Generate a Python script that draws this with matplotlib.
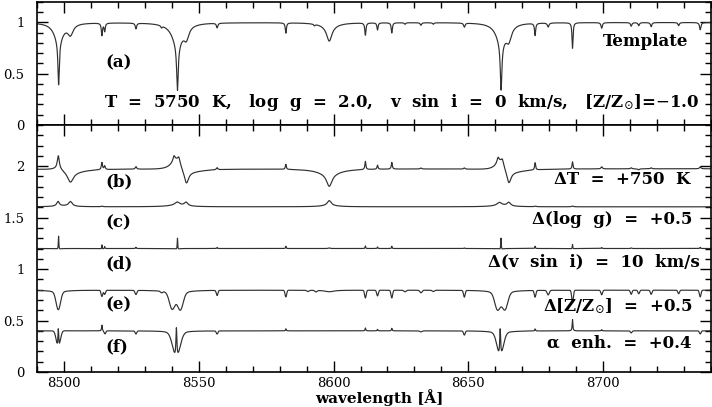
import numpy as np
import matplotlib
matplotlib.use('Agg')
import matplotlib.pyplot as plt
from matplotlib.ticker import MultipleLocator, FixedLocator, FixedFormatter

plt.rcParams['font.family'] = ['DejaVu Serif']
plt.rcParams['mathtext.fontset'] = 'dejavuserif'

# ---------------- data ----------------
WAVE_RANGE = (8490.0, 8740.0)
X_TICKS = [8500, 8550, 8600, 8650, 8700]
X_TICK_LABELS = ['8500', '8550', '8600', '8650', '8700']
TOP_Y_TICKS = [0, 0.5, 1]
TOP_Y_LABELS = ['0', '0.5', '1']
BOT_Y_TICKS = [0, 0.5, 1, 1.5, 2]
BOT_Y_LABELS = ['0', '0.5', '1', '1.5', '2']

# line lists: (centre [A], amplitude, width [A], profile L=Lorentz, G=Gauss)
TEMPLATE_LEVEL = 1.0
TEMPLATE_LINES = [
    (8498.02, -0.42, 0.30, 'L'), (8498.02, -0.18, 2.0, 'L'),
    (8502.4, -0.10, 1.2, 'L'),
    (8514.07, -0.12, 0.25, 'L'), (8515.1, -0.08, 0.25, 'L'),
    (8526.7, -0.055, 0.3, 'L'), (8536.2, -0.02, 0.3, 'L'),
    (8542.09, -0.44, 0.35, 'L'), (8542.09, -0.21, 2.4, 'L'),
    (8545.4, -0.11, 1.1, 'L'),
    (8556.8, -0.045, 0.3, 'L'),
    (8582.3, -0.10, 0.25, 'L'), (8592.9, -0.015, 0.3, 'L'),
    (8598.4, -0.15, 1.2, 'L'), (8598.4, -0.03, 4.0, 'L'),
    (8611.8, -0.12, 0.25, 'L'), (8616.3, -0.07, 0.25, 'L'),
    (8621.6, -0.10, 0.25, 'L'), (8626.5, -0.015, 0.3, 'L'),
    (8632.4, -0.025, 0.3, 'L'), (8637.0, -0.015, 0.3, 'L'),
    (8648.5, -0.04, 0.3, 'L'),
    (8662.14, -0.45, 0.35, 'L'), (8662.14, -0.19, 2.2, 'L'),
    (8665.0, -0.13, 1.2, 'L'),
    (8674.75, -0.12, 0.25, 'L'), (8679.6, -0.04, 0.35, 'L'),
    (8688.63, -0.25, 0.22, 'L'),
    (8699.45, -0.055, 0.3, 'L'), (8710.4, -0.035, 0.3, 'L'),
    (8713.2, -0.03, 0.3, 'L'), (8717.8, -0.04, 0.3, 'L'),
    (8728.0, -0.03, 0.3, 'L'), (8736.0, -0.07, 0.3, 'L'),
]

DT_LEVEL = 1.975
DT_LINES = [
    (8497.9, 0.13, 0.45, 'L'), (8498.0, 0.03, 3.0, 'L'),
    (8502.4, -0.10, 1.3, 'L'), (8502.4, -0.04, 6.0, 'L'),
    (8514.07, 0.07, 0.25, 'L'), (8515.1, 0.035, 0.25, 'L'),
    (8526.7, 0.025, 0.3, 'L'),
    (8540.8, 0.05, 0.45, 'L'), (8542.6, 0.05, 0.45, 'L'), (8541.8, 0.13, 2.5, 'L'),
    (8545.4, -0.13, 1.0, 'L'), (8545.4, -0.05, 6.0, 'L'),
    (8556.8, 0.02, 0.3, 'L'), (8582.3, 0.05, 0.22, 'L'),
    (8598.4, -0.12, 1.2, 'L'), (8598.4, -0.05, 5.0, 'L'),
    (8611.8, 0.08, 0.22, 'L'), (8616.3, 0.04, 0.22, 'L'), (8621.6, 0.065, 0.22, 'L'),
    (8632.4, 0.01, 0.3, 'L'), (8648.5, 0.012, 0.3, 'L'),
    (8661.0, 0.05, 0.45, 'L'), (8662.6, 0.04, 0.45, 'L'), (8662.0, 0.12, 2.3, 'L'),
    (8665.0, -0.13, 1.0, 'L'), (8665.0, -0.05, 6.0, 'L'),
    (8674.75, 0.07, 0.22, 'L'), (8688.63, 0.07, 0.2, 'L'),
    (8699.45, 0.02, 0.3, 'L'), (8710.4, 0.01, 0.3, 'L'), (8713.2, -0.01, 0.3, 'L'),
    (8717.8, 0.01, 0.3, 'L'), (8736.0, 0.02, 0.3, 'L'),
]

DLOGG_LEVEL = 1.605
DLOGG_LINES = [
    (8497.8, 0.045, 0.6, 'L'), (8502.4, 0.045, 0.8, 'L'), (8500.0, 0.008, 4.0, 'L'),
    (8514.07, 0.006, 0.3, 'L'),
    (8542.0, 0.03, 1.0, 'L'), (8542.0, 0.015, 4.0, 'L'), (8545.3, 0.035, 0.8, 'L'),
    (8598.4, 0.05, 0.9, 'L'), (8598.4, 0.01, 4.0, 'L'),
    (8661.5, 0.03, 1.0, 'L'), (8662.0, 0.012, 4.0, 'L'), (8665.0, 0.035, 0.8, 'L'),
    (8674.75, 0.005, 0.3, 'L'), (8688.6, 0.008, 0.3, 'L'),
]

DVSINI_LEVEL = 1.2
DVSINI_LINES = [
    (8498.0, 0.14, 0.12, 'L'), (8498.0, -0.02, 0.5, 'L'),
    (8514.07, 0.045, 0.12, 'L'), (8514.07, -0.01, 0.5, 'L'), (8515.1, 0.02, 0.12, 'L'),
    (8526.7, 0.012, 0.15, 'L'),
    (8542.1, 0.12, 0.12, 'L'), (8542.1, -0.02, 0.5, 'L'),
    (8556.8, 0.01, 0.15, 'L'), (8582.3, 0.022, 0.12, 'L'), (8598.4, 0.006, 0.3, 'L'),
    (8611.8, 0.025, 0.12, 'L'), (8616.3, 0.015, 0.12, 'L'), (8621.6, 0.022, 0.12, 'L'),
    (8648.5, 0.006, 0.15, 'L'),
    (8662.1, 0.12, 0.12, 'L'), (8662.1, -0.02, 0.5, 'L'),
    (8674.75, 0.022, 0.12, 'L'), (8688.63, 0.05, 0.12, 'L'), (8688.63, -0.01, 0.4, 'L'),
    (8699.45, 0.01, 0.15, 'L'), (8710.4, 0.006, 0.15, 'L'), (8736.0, 0.012, 0.15, 'L'),
]

DZ_LEVEL = 0.795
DZ_LINES = [
    (8497.9, -0.17, 0.8, 'G'), (8497.9, -0.02, 3.0, 'L'),
    (8514.07, -0.06, 0.3, 'G'), (8515.1, -0.04, 0.3, 'G'),
    (8526.7, -0.04, 0.35, 'G'), (8536.2, -0.015, 0.4, 'G'),
    (8540.1, -0.15, 1.0, 'G'), (8543.2, -0.15, 1.0, 'G'), (8542.0, -0.05, 3.0, 'L'),
    (8556.8, -0.05, 0.3, 'G'), (8582.3, -0.065, 0.3, 'G'),
    (8590.5, -0.012, 0.4, 'G'), (8593.5, -0.015, 0.4, 'G'), (8598.4, -0.015, 2.0, 'L'),
    (8611.8, -0.075, 0.3, 'G'), (8616.3, -0.055, 0.3, 'G'), (8621.6, -0.075, 0.3, 'G'),
    (8626.5, -0.015, 0.4, 'G'), (8632.4, -0.025, 0.4, 'G'), (8637.0, -0.012, 0.4, 'G'),
    (8648.5, -0.065, 0.3, 'G'),
    (8660.8, -0.15, 1.0, 'G'), (8663.6, -0.15, 1.0, 'G'), (8662.1, -0.05, 3.0, 'L'),
    (8674.75, -0.065, 0.3, 'G'), (8679.6, -0.045, 0.4, 'G'), (8688.63, -0.12, 0.3, 'G'),
    (8699.45, -0.045, 0.3, 'G'), (8710.4, -0.04, 0.3, 'G'), (8713.2, -0.035, 0.3, 'G'),
    (8717.8, -0.04, 0.3, 'G'), (8728.0, -0.035, 0.3, 'G'), (8736.0, -0.065, 0.3, 'G'),
]

DALPHA_LEVEL = 0.4
DALPHA_LINES = [
    (8497.9, -0.18, 0.7, 'G'), (8497.9, 0.20, 0.18, 'L'),
    (8514.07, 0.055, 0.15, 'L'), (8515.2, -0.03, 0.3, 'G'),
    (8526.7, -0.03, 0.3, 'G'),
    (8541.7, -0.24, 1.3, 'G'), (8541.7, 0.30, 0.22, 'L'), (8541.7, -0.03, 3.0, 'L'),
    (8556.8, -0.03, 0.3, 'G'), (8582.3, 0.02, 0.15, 'L'),
    (8611.8, 0.028, 0.15, 'L'), (8616.3, 0.015, 0.15, 'L'), (8621.6, 0.025, 0.15, 'L'),
    (8632.4, -0.01, 0.4, 'G'), (8648.5, -0.04, 0.3, 'G'),
    (8661.8, -0.23, 1.1, 'G'), (8661.8, 0.28, 0.22, 'L'), (8661.8, -0.03, 3.0, 'L'),
    (8674.75, 0.02, 0.15, 'L'), (8688.63, 0.11, 0.15, 'L'),
    (8699.45, 0.012, 0.15, 'L'), (8710.4, -0.02, 0.3, 'G'), (8736.0, -0.03, 0.3, 'G'),
]

TOP_TITLE = 'Template'
TOP_PARAMS = (r'T  =  5750  K,   log  g  =  2.0,   v  sin  i  =  0  km/s,   '
              r'[Z/Z$_{\odot}$]=$-$1.0')
PANEL_LABELS_BOTTOM = ['(b)', '(c)', '(d)', '(e)', '(f)']
PARAM_LABELS_BOTTOM = [r'ΔT  =  +750  K', r'Δ(log  g)  =  +0.5',
                       r'Δ(v  sin  i)  =  10  km/s', r'Δ[Z/Z$_{\odot}$]  =  +0.5',
                       r'α  enh.  =  +0.4']

# --------------- build spectra ---------------
wave = np.linspace(WAVE_RANGE[0], WAVE_RANGE[1], 12501)


def synth(level, lines):
    flux = np.full_like(wave, level)
    for c, a, w, kind in lines:
        if kind == 'L':
            flux += a * w ** 2 / ((wave - c) ** 2 + w ** 2)
        else:
            flux += a * np.exp(-0.5 * ((wave - c) / w) ** 2)
    return flux


template = synth(TEMPLATE_LEVEL, TEMPLATE_LINES)
bottom_series = [synth(DT_LEVEL, DT_LINES), synth(DLOGG_LEVEL, DLOGG_LINES),
                 synth(DVSINI_LEVEL, DVSINI_LINES), synth(DZ_LEVEL, DZ_LINES),
                 synth(DALPHA_LEVEL, DALPHA_LINES)]

# --------------- plot ---------------
W, H = 712, 407
fig = plt.figure(figsize=(W / 100, H / 100), dpi=100)
ax1 = fig.add_axes([37 / W, 1 - 125 / H, 674 / W, 123 / H])
ax2 = fig.add_axes([37 / W, 1 - 372 / H, 674 / W, 247 / H])

LINE_KW = dict(color='#303030', lw=0.85)
TEXT_KW = dict(fontsize=12, fontweight='bold', color='black')

ax1.plot(wave, template, **LINE_KW)
for s in bottom_series:
    ax2.plot(wave, s, **LINE_KW)

for ax in (ax1, ax2):
    ax.set_xlim(*WAVE_RANGE)
    ax.xaxis.set_major_locator(FixedLocator(X_TICKS))
    ax.xaxis.set_minor_locator(MultipleLocator(10))
    ax.yaxis.set_minor_locator(MultipleLocator(0.1))
    ax.tick_params(which='both', direction='in', top=True, right=True,
                   width=1.0, labelsize=9.5, color='black')
    ax.tick_params(which='major', length=8)
    ax.tick_params(which='minor', length=4.5)
    ax.tick_params(axis='y', pad=9)
    ax.tick_params(axis='x', pad=3.5)
    for sp in ax.spines.values():
        sp.set_linewidth(1.2)

ax1.set_ylim(0, 1.2)
ax1.yaxis.set_major_locator(FixedLocator(TOP_Y_TICKS))
ax1.yaxis.set_major_formatter(FixedFormatter(TOP_Y_LABELS))
ax1.tick_params(axis='x', labelbottom=False)

ax2.set_ylim(0, 2.4)
ax2.yaxis.set_major_locator(FixedLocator(BOT_Y_TICKS))
ax2.yaxis.set_major_formatter(FixedFormatter(BOT_Y_LABELS))
ax2.xaxis.set_major_formatter(FixedFormatter(X_TICK_LABELS))

# annotations (top panel)
ax1.text(8515.2, 0.605, '(a)', ha='left', va='center', **TEXT_KW)
ax1.text(8731.5, 0.81, TOP_TITLE, ha='right', va='center', **TEXT_KW)
ax1.text(8735.5, 0.215, TOP_PARAMS, ha='right', va='center', **TEXT_KW)

# annotations (bottom panel)
panel_y = [1.846, 1.448, 1.05, 0.651, 0.243]
param_y = [1.866, 1.477, 1.069, 0.635, 0.279]
param_x = [8732.2, 8733.0, 8735.9, 8733.3, 8732.6]
for lab, y in zip(PANEL_LABELS_BOTTOM, panel_y):
    ax2.text(8515.2, y, lab, ha='left', va='center', **TEXT_KW)
for lab, x, y in zip(PARAM_LABELS_BOTTOM, param_x, param_y):
    ax2.text(x, y, lab, ha='right', va='center', **TEXT_KW)

fig.text(379 / W, 1 - 397.5 / H, 'wavelength [Å]', ha='center', va='center',
         fontsize=11, fontweight='bold', color='black')

fig.savefig('out.png', dpi=100)
